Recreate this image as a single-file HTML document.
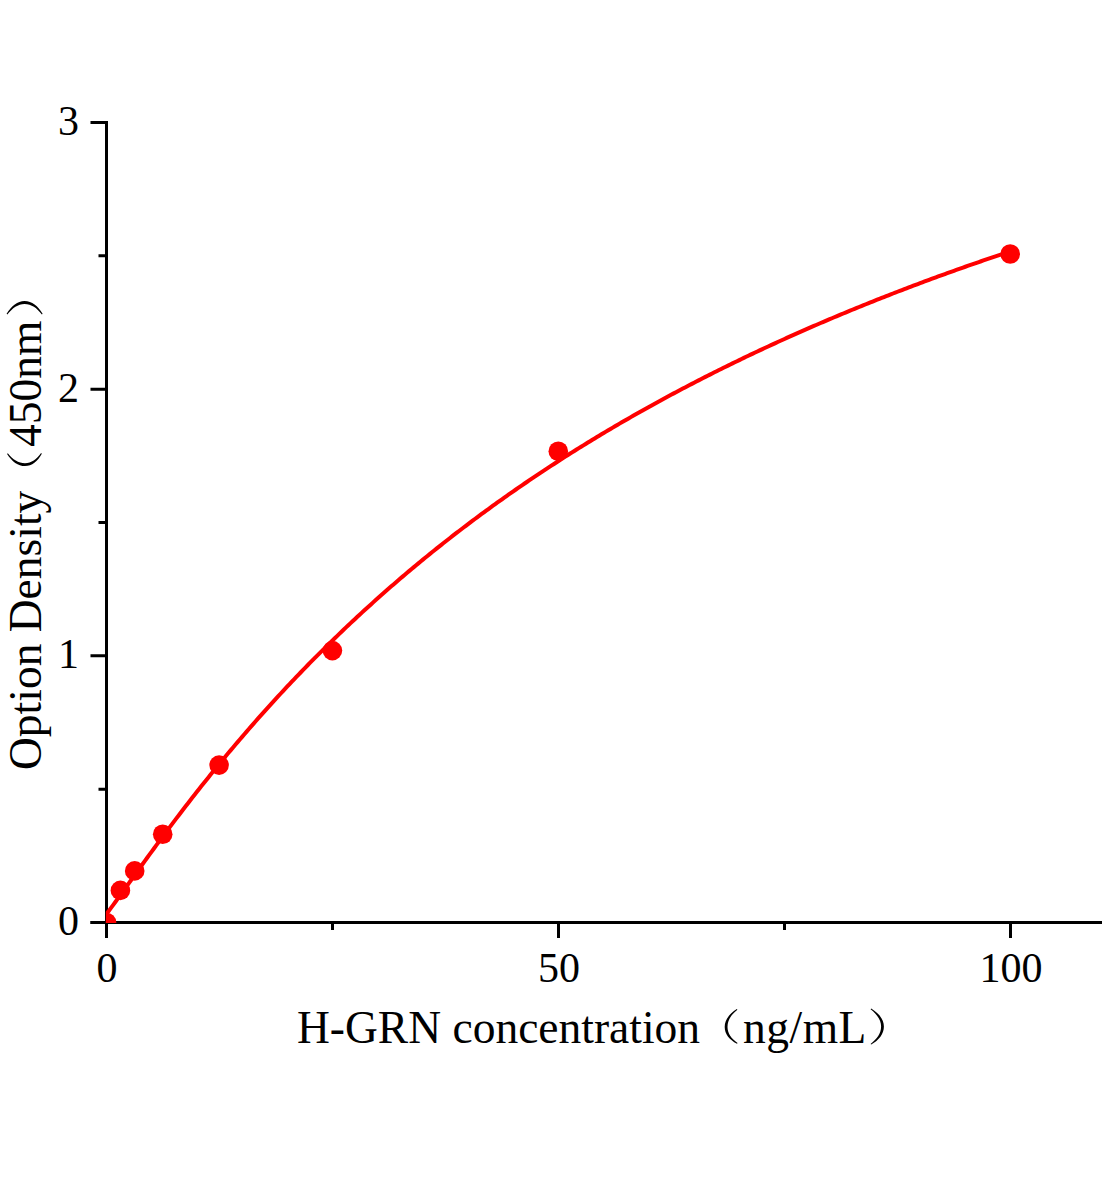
<!DOCTYPE html>
<html><head><meta charset="utf-8"><style>
html,body{margin:0;padding:0;background:#fff;}
svg{display:block;}
text{font-family:"Liberation Serif",serif;fill:#000;}
</style></head><body>
<svg width="1104" height="1200" viewBox="0 0 1104 1200">
<rect width="1104" height="1200" fill="#fff"/>
<defs><clipPath id="c"><rect x="105.8" y="0" width="1000" height="923"/></clipPath></defs>
<g stroke="#000" stroke-width="3" fill="none">
<path d="M106.5,121 V938 M90.5,922.5 H1102"/>
<path d="M90.5,922.50H106.5 M90.5,655.83H106.5 M90.5,389.17H106.5 M90.5,122.50H106.5 M98.5,789.17H106.5 M98.5,522.50H106.5 M98.5,255.83H106.5 M106.50,922.5V938 M558.50,922.5V938 M1010.50,922.5V938 M332.50,922.5V930 M784.50,922.5V930"/>
</g>
<g clip-path="url(#c)" fill="#f00">
<path d="M106.50,913.70 L108.76,910.90 L111.02,907.91 L113.28,904.85 L115.54,901.75 L117.80,898.63 L120.06,895.50 L122.32,892.35 L124.58,889.20 L126.84,886.04 L129.10,882.89 L131.36,879.73 L133.62,876.58 L135.88,873.43 L138.14,870.29 L140.40,867.15 L142.66,864.02 L144.92,860.89 L147.18,857.78 L149.44,854.67 L151.70,851.57 L153.96,848.48 L156.22,845.40 L158.48,842.33 L160.74,839.27 L163.00,836.22 L165.26,833.18 L167.52,830.15 L169.78,827.13 L172.04,824.13 L174.30,821.13 L176.56,818.15 L178.82,815.18 L181.08,812.22 L183.34,809.27 L185.60,806.34 L187.86,803.41 L190.12,800.50 L192.38,797.60 L194.64,794.71 L196.90,791.83 L199.16,788.97 L201.42,786.11 L203.68,783.27 L205.94,780.45 L208.20,777.63 L210.46,774.83 L212.72,772.03 L214.98,769.25 L217.24,766.49 L219.50,763.73 L221.76,760.99 L224.02,758.25 L226.28,755.53 L228.54,752.83 L230.80,750.13 L233.06,747.45 L235.32,744.77 L237.58,742.11 L239.84,739.46 L242.10,736.83 L244.36,734.20 L246.62,731.59 L248.88,728.99 L251.14,726.40 L253.40,723.82 L255.66,721.25 L257.92,718.69 L260.18,716.15 L262.44,713.62 L264.70,711.09 L266.96,708.58 L269.22,706.08 L271.48,703.60 L273.74,701.12 L276.00,698.65 L278.26,696.20 L280.52,693.75 L282.78,691.32 L285.04,688.90 L287.30,686.49 L289.56,684.09 L291.82,681.70 L294.08,679.32 L296.34,676.95 L298.60,674.59 L300.86,672.25 L303.12,669.91 L305.38,667.58 L307.64,665.27 L309.90,662.96 L312.16,660.66 L314.42,658.38 L316.68,656.10 L318.94,653.84 L321.20,651.58 L323.46,649.34 L325.72,647.10 L327.98,644.88 L330.24,642.66 L332.50,640.45 L334.76,638.26 L337.02,636.07 L339.28,633.89 L341.54,631.73 L343.80,629.57 L346.06,627.42 L348.32,625.28 L350.58,623.15 L352.84,621.03 L355.10,618.92 L357.36,616.82 L359.62,614.73 L361.88,612.64 L364.14,610.57 L366.40,608.50 L368.66,606.45 L370.92,604.40 L373.18,602.36 L375.44,600.33 L377.70,598.31 L379.96,596.29 L382.22,594.29 L384.48,592.29 L386.74,590.31 L389.00,588.33 L391.26,586.36 L393.52,584.40 L395.78,582.44 L398.04,580.50 L400.30,578.56 L402.56,576.63 L404.82,574.71 L407.08,572.80 L409.34,570.90 L411.60,569.00 L413.86,567.11 L416.12,565.23 L418.38,563.36 L420.64,561.50 L422.90,559.64 L425.16,557.79 L427.42,555.95 L429.68,554.12 L431.94,552.29 L434.20,550.47 L436.46,548.66 L438.72,546.86 L440.98,545.07 L443.24,543.28 L445.50,541.50 L447.76,539.72 L450.02,537.96 L452.28,536.20 L454.54,534.45 L456.80,532.70 L459.06,530.96 L461.32,529.23 L463.58,527.51 L465.84,525.80 L468.10,524.09 L470.36,522.38 L472.62,520.69 L474.88,519.00 L477.14,517.32 L479.40,515.64 L481.66,513.98 L483.92,512.31 L486.18,510.66 L488.44,509.01 L490.70,507.37 L492.96,505.74 L495.22,504.11 L497.48,502.49 L499.74,500.87 L502.00,499.26 L504.26,497.66 L506.52,496.06 L508.78,494.47 L511.04,492.89 L513.30,491.31 L515.56,489.74 L517.82,488.18 L520.08,486.62 L522.34,485.07 L524.60,483.52 L526.86,481.98 L529.12,480.44 L531.38,478.91 L533.64,477.39 L535.90,475.88 L538.16,474.36 L540.42,472.86 L542.68,471.36 L544.94,469.87 L547.20,468.38 L549.46,466.90 L551.72,465.42 L553.98,463.95 L556.24,462.49 L558.50,461.03 L560.76,459.57 L563.02,458.13 L565.28,456.68 L567.54,455.25 L569.80,453.81 L572.06,452.39 L574.32,450.97 L576.58,449.55 L578.84,448.14 L581.10,446.74 L583.36,445.34 L585.62,443.94 L587.88,442.55 L590.14,441.17 L592.40,439.79 L594.66,438.42 L596.92,437.05 L599.18,435.69 L601.44,434.33 L603.70,432.97 L605.96,431.63 L608.22,430.28 L610.48,428.94 L612.74,427.61 L615.00,426.28 L617.26,424.96 L619.52,423.64 L621.78,422.33 L624.04,421.02 L626.30,419.71 L628.56,418.41 L630.82,417.12 L633.08,415.83 L635.34,414.54 L637.60,413.26 L639.86,411.99 L642.12,410.71 L644.38,409.45 L646.64,408.18 L648.90,406.93 L651.16,405.67 L653.42,404.42 L655.68,403.18 L657.94,401.94 L660.20,400.70 L662.46,399.47 L664.72,398.25 L666.98,397.02 L669.24,395.81 L671.50,394.59 L673.76,393.38 L676.02,392.18 L678.28,390.98 L680.54,389.78 L682.80,388.59 L685.06,387.40 L687.32,386.22 L689.58,385.04 L691.84,383.86 L694.10,382.69 L696.36,381.52 L698.62,380.36 L700.88,379.20 L703.14,378.04 L705.40,376.89 L707.66,375.74 L709.92,374.60 L712.18,373.46 L714.44,372.32 L716.70,371.19 L718.96,370.06 L721.22,368.94 L723.48,367.82 L725.74,366.70 L728.00,365.59 L730.26,364.48 L732.52,363.38 L734.78,362.27 L737.04,361.18 L739.30,360.08 L741.56,358.99 L743.82,357.91 L746.08,356.82 L748.34,355.74 L750.60,354.67 L752.86,353.60 L755.12,352.53 L757.38,351.46 L759.64,350.40 L761.90,349.34 L764.16,348.29 L766.42,347.24 L768.68,346.19 L770.94,345.15 L773.20,344.11 L775.46,343.07 L777.72,342.04 L779.98,341.01 L782.24,339.98 L784.50,338.96 L786.76,337.94 L789.02,336.92 L791.28,335.91 L793.54,334.90 L795.80,333.89 L798.06,332.89 L800.32,331.89 L802.58,330.89 L804.84,329.90 L807.10,328.91 L809.36,327.92 L811.62,326.93 L813.88,325.95 L816.14,324.98 L818.40,324.00 L820.66,323.03 L822.92,322.06 L825.18,321.10 L827.44,320.13 L829.70,319.17 L831.96,318.22 L834.22,317.27 L836.48,316.32 L838.74,315.37 L841.00,314.42 L843.26,313.48 L845.52,312.55 L847.78,311.61 L850.04,310.68 L852.30,309.75 L854.56,308.82 L856.82,307.90 L859.08,306.98 L861.34,306.06 L863.60,305.15 L865.86,304.24 L868.12,303.33 L870.38,302.42 L872.64,301.52 L874.90,300.62 L877.16,299.72 L879.42,298.82 L881.68,297.93 L883.94,297.04 L886.20,296.16 L888.46,295.27 L890.72,294.39 L892.98,293.51 L895.24,292.64 L897.50,291.76 L899.76,290.89 L902.02,290.02 L904.28,289.16 L906.54,288.30 L908.80,287.44 L911.06,286.58 L913.32,285.72 L915.58,284.87 L917.84,284.02 L920.10,283.18 L922.36,282.33 L924.62,281.49 L926.88,280.65 L929.14,279.81 L931.40,278.98 L933.66,278.15 L935.92,277.32 L938.18,276.49 L940.44,275.67 L942.70,274.84 L944.96,274.02 L947.22,273.21 L949.48,272.39 L951.74,271.58 L954.00,270.77 L956.26,269.96 L958.52,269.16 L960.78,268.36 L963.04,267.55 L965.30,266.76 L967.56,265.96 L969.82,265.17 L972.08,264.38 L974.34,263.59 L976.60,262.80 L978.86,262.02 L981.12,261.24 L983.38,260.46 L985.64,259.68 L987.90,258.90 L990.16,258.13 L992.42,257.36 L994.68,256.59 L996.94,255.83 L999.20,255.06 L1001.46,254.30 L1003.72,253.54 L1005.98,252.78 L1008.24,252.03 L1010.50,251.27" fill="none" stroke="#f00" stroke-width="4"/>
<circle cx="106.5" cy="922.5" r="9.8"/><circle cx="120.4" cy="890.4" r="9.8"/><circle cx="134.7" cy="870.9" r="9.8"/><circle cx="162.7" cy="834.2" r="9.8"/><circle cx="219.1" cy="765.1" r="9.8"/><circle cx="332.4" cy="650.6" r="9.8"/><circle cx="558.3" cy="451.25" r="9.8"/><circle cx="1010.2" cy="254" r="9.8"/>
</g>
<g font-size="42"><text x="79" y="935.00" text-anchor="end">0</text><text x="79" y="668.33" text-anchor="end">1</text><text x="79" y="401.67" text-anchor="end">2</text><text x="79" y="135.00" text-anchor="end">3</text><text x="107.00" y="981.5" text-anchor="middle">0</text><text x="559.00" y="981.5" text-anchor="middle">50</text><text x="1011.00" y="981.5" text-anchor="middle">100</text></g>
<g font-size="45.5">
<text x="297" y="1043">H-GRN concentration</text>
<path transform="translate(724.7,1043)" d="M12.1,-33.9 C4.5,-29 0,-23 0,-16 C0,-9 4.5,-3.5 12.3,0.8 L12.9,0.1 C6.6,-4.5 2.8,-9.5 2.8,-16 C2.8,-22.5 6.3,-28.3 12.7,-33.2 Z"/>
<text x="743" y="1043" letter-spacing="0.5">ng/mL</text>
<path transform="translate(871,1043)" d="M0.2,-34.4 C8,-29.5 12.9,-23.5 12.9,-16.5 C12.9,-9 8,-3 0.2,1.6 L-0.4,0.9 C6,-4 10.1,-9.5 10.1,-16.5 C10.1,-23 6,-28.5 -0.4,-33.7 Z"/>
</g>
<g font-size="45.5" transform="translate(41,769) rotate(-90)">
<text x="-1" y="0">Option Density</text>
<path transform="translate(303,0)" d="M12.1,-33.9 C4.5,-29 0,-23 0,-16 C0,-9 4.5,-3.5 12.3,0.8 L12.9,0.1 C6.6,-4.5 2.8,-9.5 2.8,-16 C2.8,-22.5 6.3,-28.3 12.7,-33.2 Z"/>
<text x="322" y="0">450nm</text>
<path transform="translate(455,0)" d="M0.2,-34.4 C8,-29.5 12.9,-23.5 12.9,-16.5 C12.9,-9 8,-3 0.2,1.6 L-0.4,0.9 C6,-4 10.1,-9.5 10.1,-16.5 C10.1,-23 6,-28.5 -0.4,-33.7 Z"/>
</g>
</svg>
</body></html>
